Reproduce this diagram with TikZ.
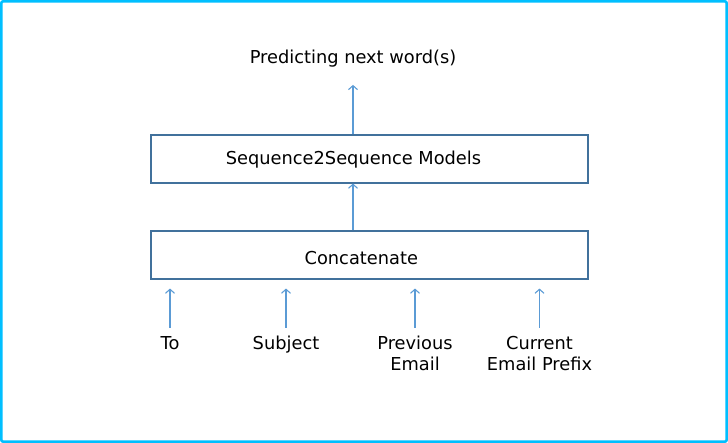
\documentclass[tikz,border=0pt]{standalone}
\usepackage{fontspec}
\setmainfont{DejaVu Sans}
\usetikzlibrary{arrows.meta}
\definecolor{framecyan}{RGB}{0,191,255}
\definecolor{boxblue}{RGB}{65,113,156}
\definecolor{feedblue}{RGB}{91,155,213}
\tikzstyle{block}=[draw=boxblue,line width=1.1pt,minimum width=437pt,minimum height=48pt,inner sep=0pt]
\tikzstyle{word}=[inner sep=0pt,font=\fontsize{17.8}{20.6}\selectfont,align=center]
\tikzstyle{feed}=[draw=feedblue,line width=1.1pt,-{Straight Barb[length=4pt,width=9pt]}]

\begin{document}
\begin{tikzpicture}[x=1pt,y=-1pt]
    \useasboundingbox (0,0) rectangle (728,443);
    \draw[framecyan,line width=2.6pt,rounded corners=2pt] (1.3,1.3) rectangle (726.7,441.7);

    \node[block] (seq) at (369.5,159) {};
    \node[block] (concat) at (369.5,255) {};
    \node[word,anchor=base] (seqtext) at (353.5,165) {Sequence2Sequence Models};
    \node[word,anchor=base] (concattext) at (361.3,265) {Concatenate};
    \node[word,anchor=base] (predict) at (353,64) {Predicting next word(s)};

    \node[word,anchor=north] (to) at (170,336) {To};
    \node[word,anchor=north] (subject) at (286,336) {Subject};
    \node[word,anchor=north] (prev) at (415,336) {Previous\\Email};
    \node[word,anchor=north] (cur) at (539.5,336) {Current\\Email Prefix};

    \draw[feed] (concat.north -| predict) -- (seq.south -| predict);
    \draw[feed,shorten >=17pt] (seq.north -| predict) -- (predict.south);
    \foreach \from in {to,subject,prev,cur}
    \draw[feed,shorten <=8pt,shorten >=9pt] (\from.north) -- (\from.north |- concat.south);
\end{tikzpicture}
\end{document}
